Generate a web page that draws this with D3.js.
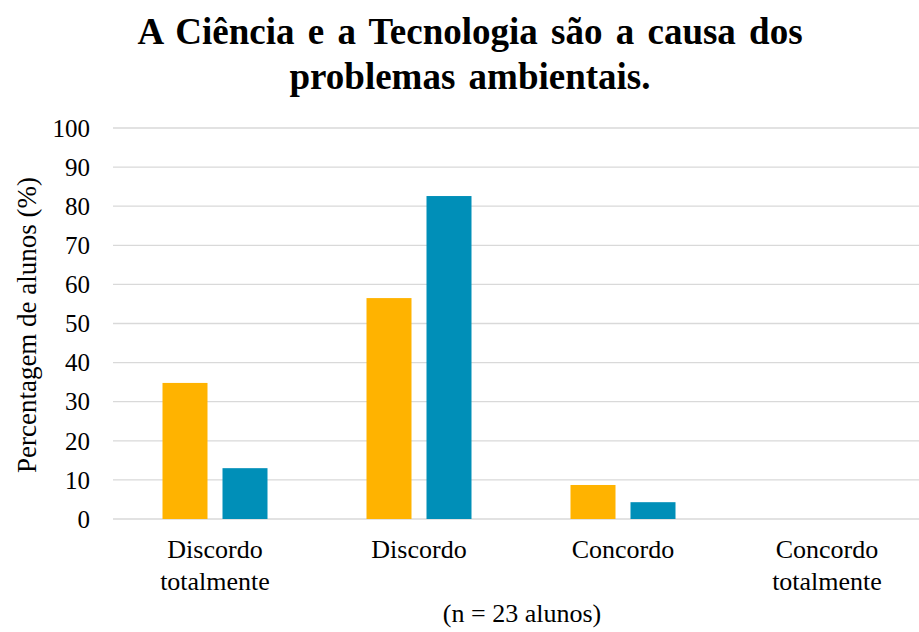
<!DOCTYPE html>
<html>
<head>
<meta charset="utf-8">
<script src="https://cdn.jsdelivr.net/npm/d3@7"></script>
<style>
  body { margin: 0; background: #fff; }
</style>
</head>
<body>
<div id="chart"></div>
<script>
// data (n = 23 alunos)
const categories = ['Discordo totalmente', 'Discordo', 'Concordo', 'Concordo totalmente'];
const seriesNames = ['serieA', 'serieB'];
const serieA = [34.8, 56.5, 8.7, 0];
const serieB = [13.0, 82.6, 4.3, 0];
const yTicks = [0, 10, 20, 30, 40, 50, 60, 70, 80, 90, 100];
const colors = ['#FFB300', '#008FB8'];

const width = 919, height = 632;
const margin = { top: 128, right: -10, bottom: 113, left: 113 };
const serif = "'Liberation Serif', 'Times New Roman', 'DejaVu Serif', serif";

const svg = d3.select('#chart')
    .append('svg')
    .attr('width', width)
    .attr('height', height)
    .attr('font-family', serif)
    .style('font-family', serif);

const x = d3.scaleBand()
    .domain(categories)
    .range([margin.left, width - margin.right])
    .padding(0);

const y = d3.scaleLinear()
    .domain([0, 100])
    .range([height - margin.bottom, margin.top]);

// sub-scale for the two bars of each group
const xSub = d3.scaleBand()
    .domain(seriesNames)
    .range([-52.5, 52.5])
    .paddingInner(0.25);

// gridlines
svg.append('g')
    .selectAll('line')
    .data(yTicks)
    .join('line')
    .attr('x1', margin.left)
    .attr('x2', width)
    .attr('y1', d => y(d))
    .attr('y2', d => y(d))
    .style('stroke', '#d9d9d9')
    .style('stroke-width', 1.3);

// y tick labels
svg.append('g')
    .selectAll('text')
    .data(yTicks)
    .join('text')
    .attr('x', 90)
    .attr('y', d => y(d))
    .attr('dy', '0.35em')
    .attr('text-anchor', 'end')
    .style('font-size', '25px')
    .text(d => d);

// bars
const rows = categories.map((c, i) => ({ cat: c, values: [serieA[i], serieB[i]] }));

const groups = svg.append('g')
    .selectAll('g')
    .data(rows)
    .join('g')
    .attr('transform', d => `translate(${x(d.cat) + x.bandwidth() / 2},0)`);

groups.selectAll('rect')
    .data(d => d.values.map((v, i) => ({ key: seriesNames[i], value: v, color: colors[i] })))
    .join('rect')
    .attr('x', d => xSub(d.key))
    .attr('width', xSub.bandwidth())
    .attr('y', d => y(d.value))
    .attr('height', d => y(0) - y(d.value))
    .attr('fill', d => d.color);

// category labels, wrapped on two lines
svg.append('g')
    .selectAll('text')
    .data(categories)
    .join('text')
    .attr('x', d => x(d) + x.bandwidth() / 2)
    .attr('y', 558)
    .attr('text-anchor', 'middle')
    .style('font-size', '26px')
    .each(function (d) {
        const words = d.split(' ');
        d3.select(this).selectAll('tspan')
            .data(words)
            .join('tspan')
            .attr('x', x(d) + x.bandwidth() / 2)
            .attr('dy', (w, i) => i === 0 ? 0 : 32)
            .text(w => w);
    });

// y axis title
svg.append('text')
    .attr('transform', 'translate(36,325) rotate(-90)')
    .attr('text-anchor', 'middle')
    .style('font-size', '27px')
    .text('Percentagem de alunos (%)');

// footnote
svg.append('text')
    .attr('x', 522)
    .attr('y', 622)
    .attr('text-anchor', 'middle')
    .style('font-size', '26px')
    .text('(n = 23 alunos)');

// title
const title = svg.append('text')
    .attr('x', 470)
    .attr('text-anchor', 'middle')
    .style('font-size', '37px')
    .style('font-weight', 'bold')
    .style('word-spacing', '4px');
title.append('tspan').attr('x', 470).attr('y', 44).text('A Ciência e a Tecnologia são a causa dos');
title.append('tspan').attr('x', 470).attr('y', 89).text('problemas ambientais.');
</script>
</body>
</html>
